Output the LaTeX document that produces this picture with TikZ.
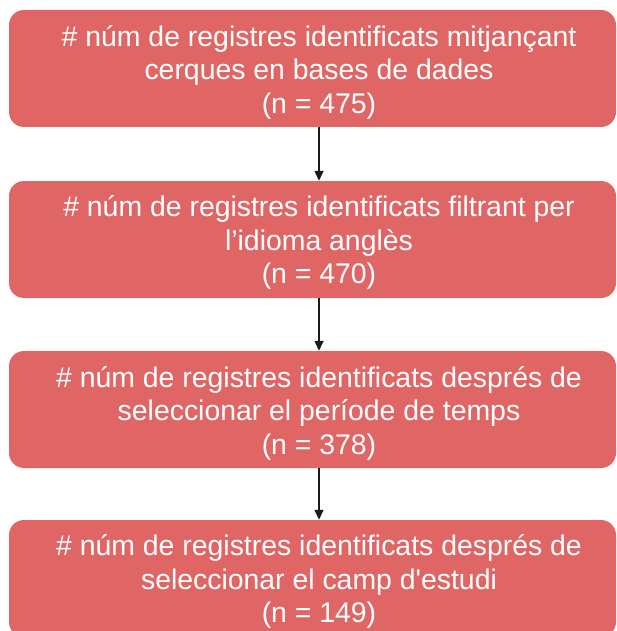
\documentclass[tikz,border=0pt]{standalone}
\usepackage{fontspec}
\setmainfont{Liberation Sans}
\usepackage{xcolor}
\definecolor{regfill}{HTML}{E06666}
\definecolor{regarrow}{HTML}{1A1A1A}
\usetikzlibrary{arrows.meta,positioning,calc}

\begin{document}
\begin{tikzpicture}[x=1pt,y=-1pt,
  regbox/.style={draw=none,fill=regfill,rounded corners=15pt,minimum width=607pt,minimum height=117pt,inner sep=0pt},
  regtext/.style={text=white,align=center,font=\fontsize{28.4pt}{33.5pt}\selectfont,inner sep=0pt},
  regline/.style={draw=regarrow,line width=1.4pt,-{Triangle[length=10pt,width=9pt]}}]
\useasboundingbox (0,0) rectangle (617,631);
\node[regbox] (r1) at (312.5,68.5) {};
\node[regbox] (r2) at (312.5,239.5) {};
\node[regbox] (r3) at (312.5,409.5) {};
\node[regbox] (r4) at (312.5,578.5) {};
\node[regtext] (t1) at ($(r1.center)+(6.5,3.5)$) {\# núm de registres identificats mitjançant\\cerques en bases de dades\\(n = 475)};
\node[regtext] (t2) at ($(r2.center)+(6.5,3)$) {\# núm de registres identificats filtrant per\\l’idioma anglès\\(n = 470)};
\node[regtext] (t3) at ($(r3.center)+(6.5,3.5)$) {\# núm de registres identificats després de\\seleccionar el període de temps\\(n = 378)};
\node[regtext] (t4) at ($(r4.center)+(6.5,3)$) {\# núm de registres identificats després de\\seleccionar el camp d\textquotesingle estudi\\(n = 149)};
\draw[regline] (t1 |- r1.south) -- (t1 |- r2.north);
\draw[regline] (t2 |- r2.south) -- (t2 |- r3.north);
\draw[regline] (t3 |- r3.south) -- (t3 |- r4.north);
\end{tikzpicture}
\end{document}
